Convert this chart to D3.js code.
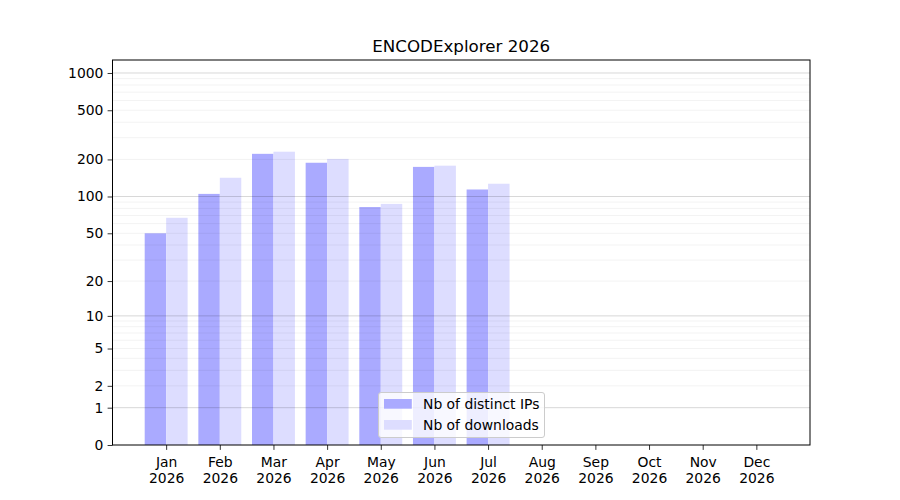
<!DOCTYPE html>
<html>
<head>
<meta charset="utf-8">
<script src="https://cdn.jsdelivr.net/npm/d3@7/dist/d3.min.js"></script>
<style>
  body { margin: 0; background: #fff; }
  svg { font-family: "DejaVu Sans", sans-serif; }
</style>
</head>
<body>
<svg id="canvas" width="900" height="500"></svg>
<script>
// data
var months = ["Jan", "Feb", "Mar", "Apr", "May", "Jun", "Jul", "Aug", "Sep", "Oct", "Nov", "Dec"];
var year = "2026";
var distinctIPs = [50, 105, 222, 188, 82, 174, 114];
var downloads = [67, 142, 231, 202, 87, 178, 127];
var seriesNames = ["Nb of distinct IPs", "Nb of downloads"];
var seriesColors = ["#aaaaff", "#ddddff"];
var yTicks = [0, 1, 2, 5, 10, 20, 50, 100, 200, 500, 1000];
var yMajorGrid = [1, 10, 100, 1000];
var yMinorGrid = [2, 3, 4, 5, 6, 7, 8, 9, 20, 30, 40, 50, 60, 70, 80, 90,
                  200, 300, 400, 500, 600, 700, 800, 900];

var LEFT = 112.5, RIGHT = 810, TOP = 60, BOTTOM = 445;
var BAR_WIDTH = 0.4;

var svg = d3.select("#canvas");

var x = d3.scaleLinear().domain([-1, 12]).range([LEFT, RIGHT]);
var y = d3.scaleSymlog().constant(1).domain([0, 1273]).range([BOTTOM, TOP]);

// bars
var groups = [distinctIPs, downloads];
groups.forEach(function(values, s) {
    svg.append("g").selectAll("rect")
        .data(values)
        .enter().append("rect")
        .attr("x", function(d, i) { return x(i - BAR_WIDTH + s * BAR_WIDTH); })
        .attr("width", function() { return x(BAR_WIDTH) - x(0); })
        .attr("y", function(d) { return y(d); })
        .attr("height", function(d) { return y(0) - y(d); })
        .attr("fill", seriesColors[s]);
});

// grid drawn over the bars
var grid = svg.append("g");
grid.selectAll("line.minor")
    .data(yMinorGrid)
    .enter().append("line")
    .attr("class", "minor")
    .attr("x1", LEFT).attr("x2", RIGHT)
    .attr("y1", function(d) { return y(d); })
    .attr("y2", function(d) { return y(d); })
    .attr("stroke", "#000")
    .attr("stroke-opacity", 0.065)
    .attr("stroke-width", 0.8);
grid.selectAll("line.major")
    .data(yMajorGrid)
    .enter().append("line")
    .attr("class", "major")
    .attr("x1", LEFT).attr("x2", RIGHT)
    .attr("y1", function(d) { return y(d); })
    .attr("y2", function(d) { return y(d); })
    .attr("stroke", "#000")
    .attr("stroke-opacity", 0.2)
    .attr("stroke-width", 0.8);

// frame
svg.append("rect")
    .attr("x", LEFT).attr("y", TOP)
    .attr("width", RIGHT - LEFT).attr("height", BOTTOM - TOP)
    .attr("fill", "none")
    .attr("stroke", "#000")
    .attr("stroke-width", 1);

// y axis
var yAxis = svg.append("g")
    .attr("transform", "translate(" + LEFT + ",0)")
    .call(d3.axisLeft(y).tickValues(yTicks).tickFormat(d3.format("d"))
        .tickSize(4.9).tickPadding(4.2).tickSizeOuter(0));
yAxis.select(".domain").remove();
yAxis.selectAll("text").attr("font-size", "13.9px").attr("fill", "#000")
    .attr("font-family", "DejaVu Sans");
yAxis.selectAll("line").attr("stroke", "#000").attr("stroke-width", 0.8);

// x axis
var xAxis = svg.append("g")
    .attr("transform", "translate(0," + BOTTOM + ")")
    .call(d3.axisBottom(x).tickValues(d3.range(months.length)).tickFormat("")
        .tickSize(4.9).tickSizeOuter(0));
xAxis.select(".domain").remove();
xAxis.selectAll("line").attr("stroke", "#000").attr("stroke-width", 0.8);
xAxis.selectAll(".tick").each(function(d) {
    var t = d3.select(this).append("text")
        .attr("fill", "#000")
        .attr("font-size", "13.9px")
        .attr("font-family", "DejaVu Sans")
        .attr("text-anchor", "middle");
    t.append("tspan").attr("x", 0).attr("y", 22).text(months[d]);
    t.append("tspan").attr("x", 0).attr("y", 37.5).text(year);
});

// title
svg.append("text")
    .attr("x", (LEFT + RIGHT) / 2)
    .attr("y", 52)
    .attr("text-anchor", "middle")
    .attr("font-size", "16.7px")
    .attr("fill", "#000")
    .text("ENCODExplorer " + year);

// legend
var legend = svg.append("g").attr("transform", "translate(378.5,392.5)");
legend.append("rect")
    .attr("width", 166).attr("height", 45)
    .attr("rx", 2.5).attr("ry", 2.5)
    .attr("fill", "#fff").attr("fill-opacity", 0.8)
    .attr("stroke", "#cccccc").attr("stroke-width", 1);
seriesNames.forEach(function(name, i) {
    legend.append("rect")
        .attr("x", 5.5).attr("y", 6.5 + i * 21)
        .attr("width", 27.8).attr("height", 9.7)
        .attr("fill", seriesColors[i]);
    legend.append("text")
        .attr("x", 44.5).attr("y", 16.5 + i * 21)
        .attr("font-size", "13.9px")
        .attr("fill", "#000")
        .text(name);
});
</script>
</body>
</html>
